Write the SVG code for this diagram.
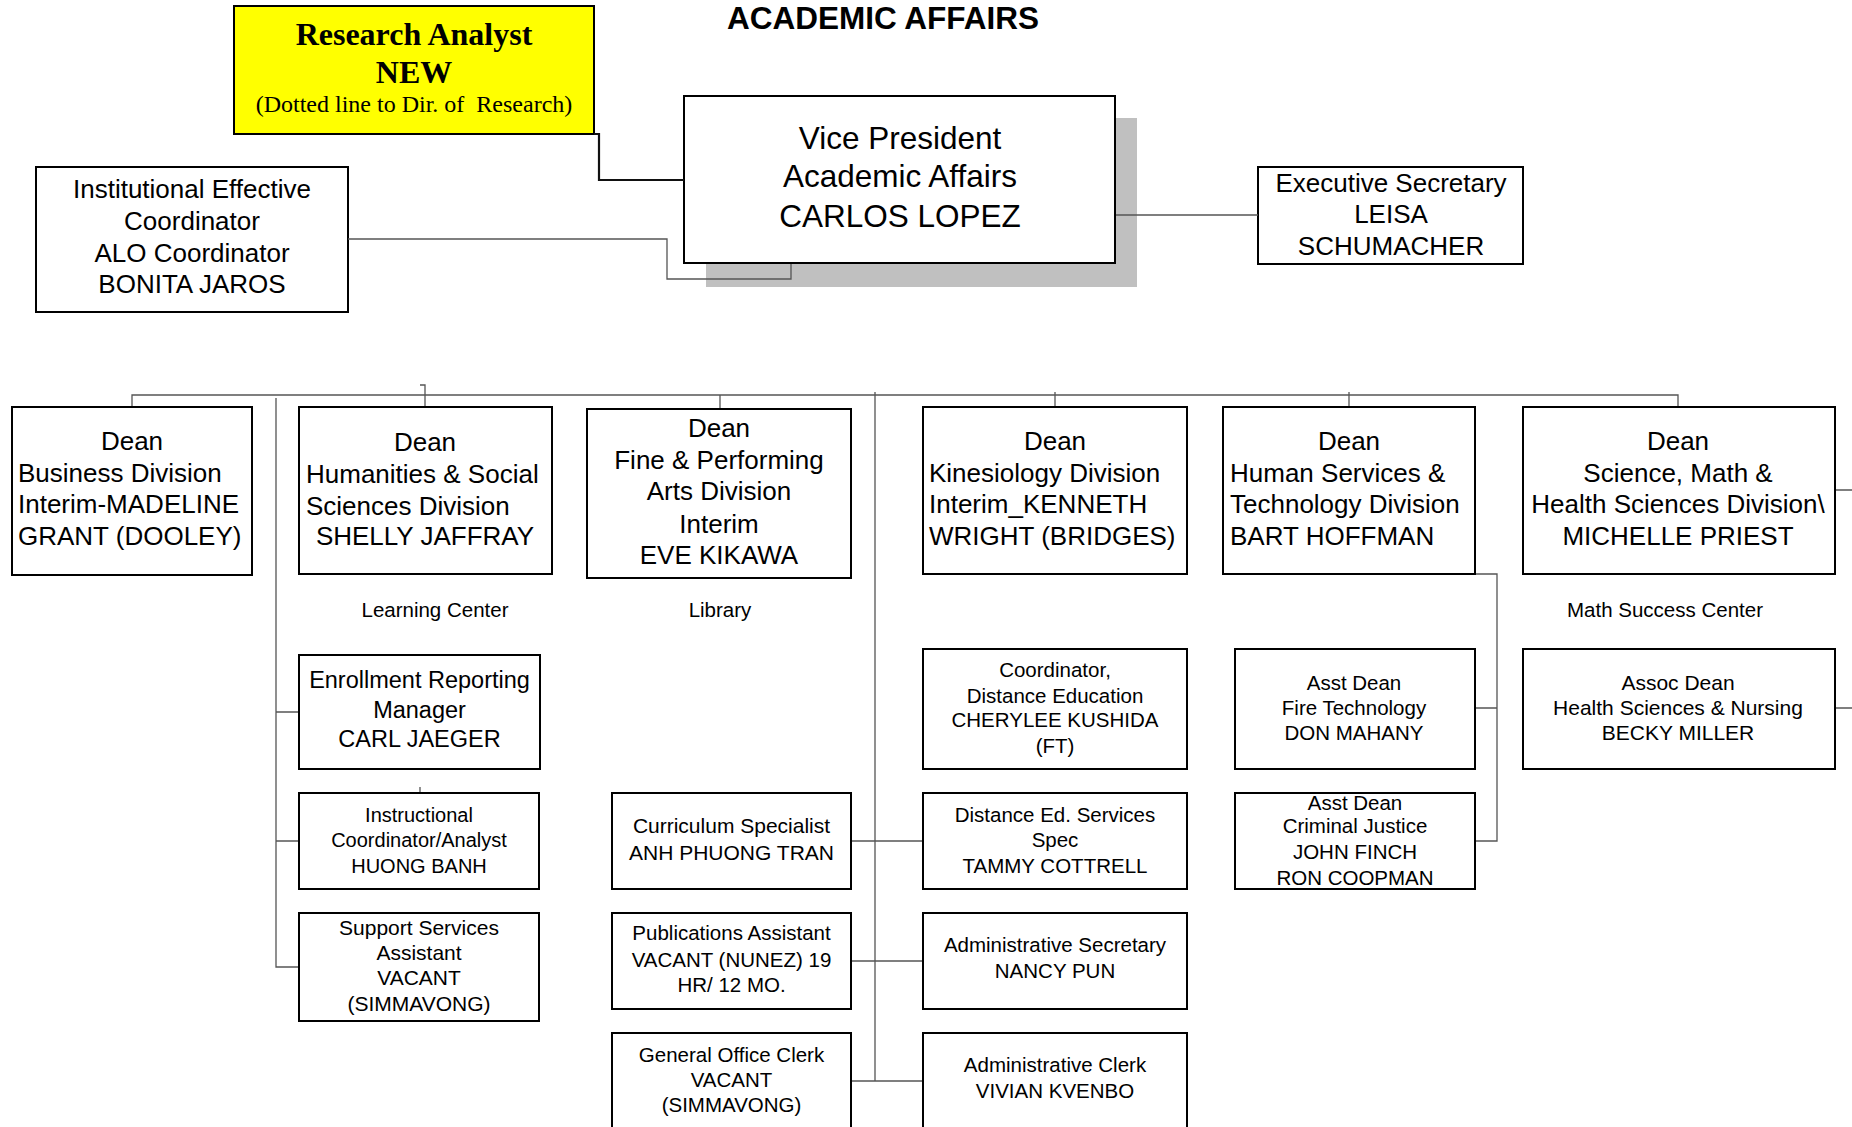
<svg xmlns="http://www.w3.org/2000/svg" width="1852" height="1127" viewBox="0 0 1852 1127">
<style>
.bg{fill:#fff}
.box{fill:#fff;stroke:#000;stroke-width:2}
.ylw{fill:#ffff00;stroke:#000;stroke-width:2}
.shadow{fill:#c0c0c0}
.t{font-family:"Liberation Sans",Arial,Helvetica,sans-serif;fill:#000}
.s{font-family:"Liberation Serif","Times New Roman",serif;fill:#000}
.m{text-anchor:middle}
.b{font-weight:bold}
.f31{font-size:31.5px}.f26{font-size:26px}.f235{font-size:23.5px}.f21{font-size:21px}.f205{font-size:20.5px}.f20{font-size:20px}
.conn{fill:none;stroke:#555;stroke-width:1.3}
.thick{fill:none;stroke:#111;stroke-width:2.2}
</style>
<rect class="bg" x="0" y="0" width="1852" height="1127"/>

<g id="title">
  <text class="t b m" x="883" y="29" font-size="31.5">ACADEMIC AFFAIRS</text>
</g>

<g id="research-analyst">
  <rect class="ylw" x="234" y="6" width="360" height="128"/>
  <text class="s b m" x="414" y="45" font-size="32">Research Analyst</text>
  <text class="s b m" x="414" y="83" font-size="32">NEW</text>
  <text class="s m" x="414" y="112" font-size="24" xml:space="preserve">(Dotted line to Dir. of  Research)</text>
</g>

<g id="institutional">
  <rect class="box" x="36" y="167" width="312" height="145"/>
  <text class="t m f26" x="192" y="198">Institutional Effective</text>
  <text class="t m f26" x="192" y="230">Coordinator</text>
  <text class="t m f26" x="192" y="262">ALO Coordinator</text>
  <text class="t m f26" x="192" y="293">BONITA JAROS</text>
</g>

<g id="vice-president">
  <rect class="shadow" x="706" y="118" width="431" height="169"/>
  <rect class="box" x="684" y="96" width="431" height="167"/>
  <text class="t m f31" x="900" y="149">Vice President</text>
  <text class="t m f31" x="900" y="187">Academic Affairs</text>
  <text class="t m f31" x="900" y="227">CARLOS LOPEZ</text>
</g>

<g id="exec-secretary">
  <rect class="box" x="1258" y="167" width="265" height="97"/>
  <text class="t m f26" x="1391" y="192">Executive Secretary</text>
  <text class="t m f26" x="1391" y="223">LEISA</text>
  <text class="t m f26" x="1391" y="255">SCHUMACHER</text>
</g>

<g id="dean-business">
  <rect class="box" x="12" y="407" width="240" height="168"/>
  <text class="t m f26" x="132" y="450">Dean</text>
  <text class="t f26" x="18" y="482">Business Division</text>
  <text class="t f26" x="18" y="513">Interim-MADELINE</text>
  <text class="t f26" x="18" y="545">GRANT (DOOLEY)</text>
</g>

<g id="dean-humanities">
  <rect class="box" x="299" y="407" width="253" height="167"/>
  <text class="t m f26" x="425" y="451">Dean</text>
  <text class="t f26" x="306" y="483">Humanities &amp; Social</text>
  <text class="t f26" x="306" y="515">Sciences Division</text>
  <text class="t m f26" x="425" y="545">SHELLY JAFFRAY</text>
</g>

<g id="dean-fine-arts">
  <rect class="box" x="587" y="409" width="264" height="169"/>
  <text class="t m f26" x="719" y="437">Dean</text>
  <text class="t m f26" x="719" y="469">Fine &amp; Performing</text>
  <text class="t m f26" x="719" y="500">Arts Division</text>
  <text class="t m f26" x="719" y="533">Interim</text>
  <text class="t m f26" x="719" y="564">EVE KIKAWA</text>
</g>

<g id="dean-kinesiology">
  <rect class="box" x="923" y="407" width="264" height="167"/>
  <text class="t m f26" x="1055" y="450">Dean</text>
  <text class="t f26" x="929" y="482">Kinesiology Division</text>
  <text class="t f26" x="929" y="513">Interim_KENNETH</text>
  <text class="t f26" x="929" y="545">WRIGHT (BRIDGES)</text>
</g>

<g id="dean-human-services">
  <rect class="box" x="1223" y="407" width="252" height="167"/>
  <text class="t m f26" x="1349" y="450">Dean</text>
  <text class="t f26" x="1230" y="482">Human Services &amp;</text>
  <text class="t f26" x="1230" y="513">Technology Division</text>
  <text class="t f26" x="1230" y="545">BART HOFFMAN</text>
</g>

<g id="dean-science">
  <rect class="box" x="1523" y="407" width="312" height="167"/>
  <text class="t m f26" x="1678" y="450">Dean</text>
  <text class="t m f26" x="1678" y="482">Science, Math &amp;</text>
  <text class="t m f26" x="1678" y="513">Health Sciences Division\</text>
  <text class="t m f26" x="1678" y="545">MICHELLE PRIEST</text>
</g>

<g id="label-learning-center">
  <text class="t m f205" x="435" y="617">Learning Center</text>
</g>
<g id="label-library">
  <text class="t m f205" x="720" y="617">Library</text>
</g>
<g id="label-math-success">
  <text class="t m f205" x="1665" y="617">Math Success Center</text>
</g>

<g id="enrollment">
  <rect class="box" x="299" y="655" width="241" height="114"/>
  <text class="t m f235" x="419.5" y="688">Enrollment Reporting</text>
  <text class="t m f235" x="419.5" y="718">Manager</text>
  <text class="t m f235" x="419.5" y="747">CARL JAEGER</text>
</g>

<g id="coordinator-de">
  <rect class="box" x="923" y="649" width="264" height="120"/>
  <text class="t m f205" x="1055" y="677">Coordinator,</text>
  <text class="t m f205" x="1055" y="703">Distance Education</text>
  <text class="t m f205" x="1055" y="727">CHERYLEE KUSHIDA</text>
  <text class="t m f205" x="1055" y="753">(FT)</text>
</g>

<g id="fire-tech">
  <rect class="box" x="1235" y="649" width="240" height="120"/>
  <text class="t m f205" x="1354" y="690">Asst Dean</text>
  <text class="t m f205" x="1354" y="715">Fire Technology</text>
  <text class="t m f205" x="1354" y="740">DON MAHANY</text>
</g>

<g id="assoc-dean-health">
  <rect class="box" x="1523" y="649" width="312" height="120"/>
  <text class="t m f21" x="1678" y="690">Assoc Dean</text>
  <text class="t m f21" x="1678" y="715">Health Sciences &amp; Nursing</text>
  <text class="t m f21" x="1678" y="740">BECKY MILLER</text>
</g>

<g id="instructional">
  <rect class="box" x="299" y="793" width="240" height="96"/>
  <text class="t m f20" x="419" y="822">Instructional</text>
  <text class="t m f20" x="419" y="847">Coordinator/Analyst</text>
  <text class="t m f20" x="419" y="873">HUONG BANH</text>
</g>

<g id="support-services">
  <rect class="box" x="299" y="913" width="240" height="108"/>
  <text class="t m f21" x="419" y="935">Support Services</text>
  <text class="t m f21" x="419" y="960">Assistant</text>
  <text class="t m f21" x="419" y="985">VACANT</text>
  <text class="t m f21" x="419" y="1011">(SIMMAVONG)</text>
</g>

<g id="curriculum">
  <rect class="box" x="612" y="793" width="239" height="96"/>
  <text class="t m f21" x="731.5" y="833">Curriculum Specialist</text>
  <text class="t m f21" x="731.5" y="860">ANH PHUONG TRAN</text>
</g>

<g id="publications">
  <rect class="box" x="612" y="913" width="239" height="96"/>
  <text class="t m f205" x="731.5" y="940">Publications Assistant</text>
  <text class="t m f205" x="731.5" y="967">VACANT (NUNEZ) 19</text>
  <text class="t m f205" x="731.5" y="992">HR/ 12 MO.</text>
</g>

<g id="general-office">
  <rect class="box" x="612" y="1033" width="239" height="110"/>
  <text class="t m f205" x="731.5" y="1062">General Office Clerk</text>
  <text class="t m f205" x="731.5" y="1087">VACANT</text>
  <text class="t m f205" x="731.5" y="1112">(SIMMAVONG)</text>
</g>

<g id="distance-ed-services">
  <rect class="box" x="923" y="793" width="264" height="96"/>
  <text class="t m f205" x="1055" y="822">Distance Ed. Services</text>
  <text class="t m f205" x="1055" y="847">Spec</text>
  <text class="t m f205" x="1055" y="873">TAMMY COTTRELL</text>
</g>

<g id="admin-secretary">
  <rect class="box" x="923" y="913" width="264" height="96"/>
  <text class="t m f205" x="1055" y="952">Administrative Secretary</text>
  <text class="t m f205" x="1055" y="978">NANCY PUN</text>
</g>

<g id="admin-clerk">
  <rect class="box" x="923" y="1033" width="264" height="110"/>
  <text class="t m f205" x="1055" y="1072">Administrative Clerk</text>
  <text class="t m f205" x="1055" y="1098">VIVIAN KVENBO</text>
</g>

<g id="criminal-justice">
  <rect class="box" x="1235" y="793" width="240" height="96"/>
  <text class="t m f205" x="1355" y="810">Asst Dean</text>
  <text class="t m f205" x="1355" y="833">Criminal Justice</text>
  <text class="t m f205" x="1355" y="859">JOHN FINCH</text>
  <text class="t m f205" x="1355" y="885">RON COOPMAN</text>
</g>

<g id="connectors">
  <path class="thick" d="M594,134 H599 V180 H684"/>
  <path class="conn" d="M348,239 H667 V279 H791 V264"/>
  <path class="conn" d="M1116,215 H1258"/>
  <path class="conn" d="M132,406 V395 H1678 V406"/>
  <path class="conn" d="M420,385 H425 V406"/>
  <path class="conn" d="M720,395 V408"/>
  <path class="conn" d="M1055,392 V406"/>
  <path class="conn" d="M1349,392 V406"/>
  <path class="conn" d="M276,398 V967 H298 M276,712 H298 M276,841 H298"/>
  <path class="conn" d="M420,787 V792"/>
  <path class="conn" d="M875,392 V1081 M852,841 H922 M852,961 H922 M852,1081 H922"/>
  <path class="conn" d="M1476,574 H1497 V841 H1476 M1476,708 H1497"/>
  <path class="conn" d="M1836,490 H1852 M1836,708 H1852"/>
</g>
</svg>
